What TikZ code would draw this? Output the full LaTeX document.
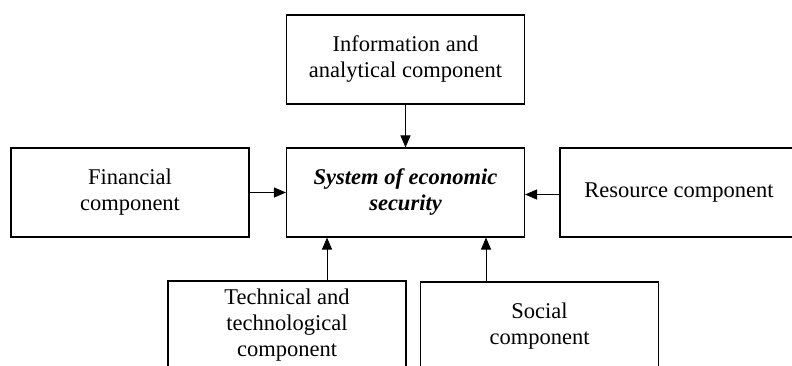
\documentclass[tikz,border=0pt]{standalone}
\usepackage{fontspec}
\setmainfont{Liberation Serif}
\usetikzlibrary{arrows.meta}
\tikzset{>={Triangle[length=12pt,width=10pt]}}
\tikzset{comp/.style={draw, line width=1.1pt, minimum width=238pt, minimum height=89pt,
    inner sep=2pt, align=center, font=\fontsize{22.5}{26}\selectfont}}

\begin{document}
\begin{tikzpicture}[x=1pt,y=1pt]
       \clip (0,0) rectangle (792,365);
       \node[comp] at (405.5, 305.5) (info) {Information and\\analytical component};
       \node[comp] at (130, 172.5) (fin) {Financial\\component};
       \node[comp, font=\fontsize{22.5}{26}\selectfont\bfseries\itshape] at (405.5, 172.5) (sys) {System of economic\\security};
       \node[comp] at (679, 172.5) (res) {Resource component};
       \node[comp] at (287, 39.5) (tech) {Technical and\\technological\\component};
       \node[comp] at (539.5, 38.5) (soc) {Social\\component};
       % arrows into the system
       \draw[line width=1pt,->] (info.south) -- (sys.north);
       \draw[line width=1pt,->] (fin.east) -- (sys.west);
       \draw[line width=1pt,->] ([yshift=-2pt]res.west) -- ([yshift=-2pt]sys.east);
       \draw[line width=1pt,->] ([xshift=40pt]tech.north) -- ([xshift=40pt]tech.north |- sys.south);
       \draw[line width=1pt,->] ([xshift=-53.5pt]soc.north) -- ([xshift=-53.5pt]soc.north |- sys.south);
\end{tikzpicture}
\end{document}
